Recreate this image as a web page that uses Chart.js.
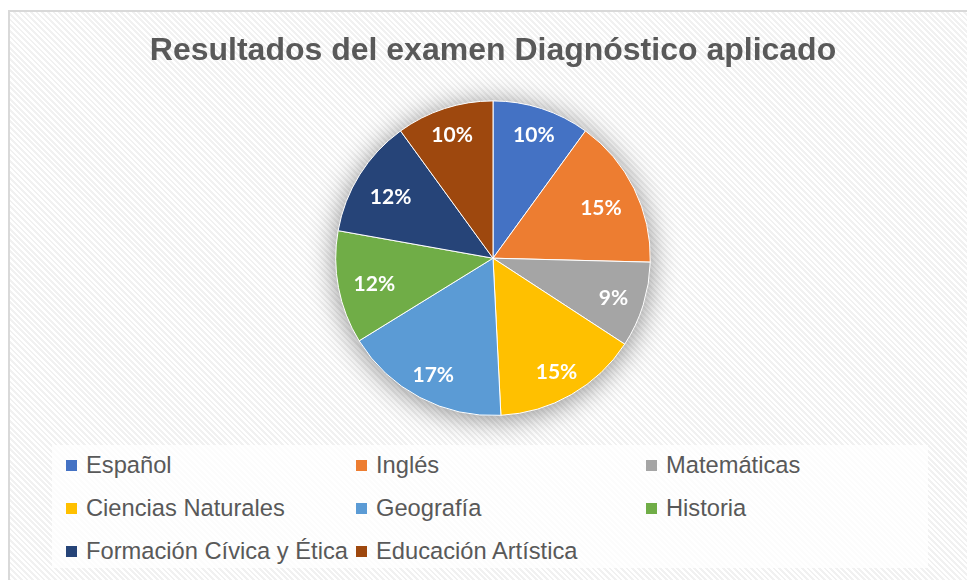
<!DOCTYPE html>
<html>
<head>
<meta charset="utf-8">
<script src="https://cdn.jsdelivr.net/npm/chart.js@4/dist/chart.umd.min.js"></script>
<style>
    body { margin: 0; background: #fff; width: 967px; height: 580px; overflow: hidden; position: relative; }
    #frame {
        position: absolute; left: 8px; top: 10px; width: 980px; height: 600px;
        border: 2px solid #d9d9d9;
        background: repeating-linear-gradient(45deg, #ffffff 0 2px, #f1f1f1 2px 4px);
    }
    #legendBox {
        position: absolute; left: 52px; top: 445px; width: 876px; height: 123px;
        background: rgba(255, 255, 255, 0.75);
    }
    #legend {
        position: absolute; left: 66px; top: 444px;
        display: grid; grid-template-columns: 290px 290px 290px; grid-auto-rows: 43px;
        font-family: "Liberation Sans", Arial, sans-serif; font-size: 23.7px; color: #595959;
    }
    #legend div { display: flex; align-items: center; white-space: nowrap; }
    #legend span.box { width: 11px; height: 11px; margin-right: 9px; display: inline-block; }
    #chart { position: absolute; left: 0; top: 0; }
</style>
</head>
<body>
<div id="frame"></div>
<div id="legendBox"></div>
<div id="legend"></div>
<canvas id="chart" width="967" height="580"></canvas>
<script>
const titleText = 'Resultados del examen Diagnóstico aplicado';
const subjects = ['Español', 'Inglés', 'Matemáticas', 'Ciencias Naturales', 'Geografía',
    'Historia', 'Formación Cívica y Ética', 'Educación Artística'];
const percents = [10, 15.4, 8.8, 15, 17, 11.6, 12.2, 10];
const colors = ['#4472C4', '#ED7D31', '#A5A5A5', '#FFC000', '#5B9BD5', '#70AD47', '#264478', '#9E480E'];

// legend built from the same arrays
const legendEl = document.getElementById('legend');
subjects.forEach(function (name, i) {
    const item = document.createElement('div');
    item.innerHTML = '<span class="box" style="background:' + colors[i] + '"></span>' + name;
    legendEl.appendChild(item);
});

// soft glow behind the pie
const pieShadow = {
    id: 'pieShadow',
    beforeDatasetsDraw: function (chart) {
        const arc = chart.getDatasetMeta(0).data[0];
        if (!arc) return;
        const ctx = chart.ctx;
        ctx.save();
        ctx.shadowColor = 'rgba(0, 0, 0, 0.45)';
        ctx.shadowBlur = 28;
        ctx.shadowOffsetY = 3;
        ctx.fillStyle = '#999';
        ctx.beginPath();
        ctx.arc(arc.x, arc.y, arc.outerRadius, 0, Math.PI * 2);
        ctx.fill();
        ctx.restore();
    }
};

// percentage labels, inside end like Excel: the label box is kept off the rim
const sliceLabels = {
    id: 'sliceLabels',
    afterDatasetsDraw: function (chart) {
        const ctx = chart.ctx;
        const data = chart.data.datasets[0].data;
        const total = data.reduce(function (a, b) { return a + b; }, 0);
        ctx.save();
        ctx.fillStyle = '#ffffff';
        ctx.font = 'bold 21px Lato, "Open Sans", sans-serif';
        ctx.textAlign = 'center';
        ctx.textBaseline = 'middle';
        chart.getDatasetMeta(0).data.forEach(function (arc, i) {
            const txt = Math.round(data[i] / total * 100) + '%';
            const w = ctx.measureText(txt).width;
            const mid = (arc.startAngle + arc.endAngle) / 2;
            const c = Math.cos(mid), s = Math.sin(mid);
            const r = arc.outerRadius - 4 - Math.abs(c) * (w / 2 + 10) - Math.abs(s) * 12;
            ctx.fillText(txt, arc.x + c * r, arc.y + s * r + 3);
        });
        ctx.restore();
    }
};

new Chart(document.getElementById('chart').getContext('2d'), {
    type: 'pie',
    data: {
        labels: subjects,
        datasets: [{
            data: percents,
            backgroundColor: colors,
            borderColor: '#ffffff',
            borderWidth: 1
        }]
    },
    options: {
        responsive: false,
        animation: false,
        layout: { padding: { left: 19, right: 0, top: 0, bottom: 164 } },
        plugins: {
            legend: { display: false },
            tooltip: { enabled: false },
            title: {
                display: true,
                text: titleText,
                color: '#595959',
                font: { family: '"Liberation Sans", Arial, sans-serif', size: 32, weight: 'bold' },
                padding: { top: 32, bottom: 30 }
            }
        }
    },
    plugins: [pieShadow, sliceLabels]
});
</script>
</body>
</html>
